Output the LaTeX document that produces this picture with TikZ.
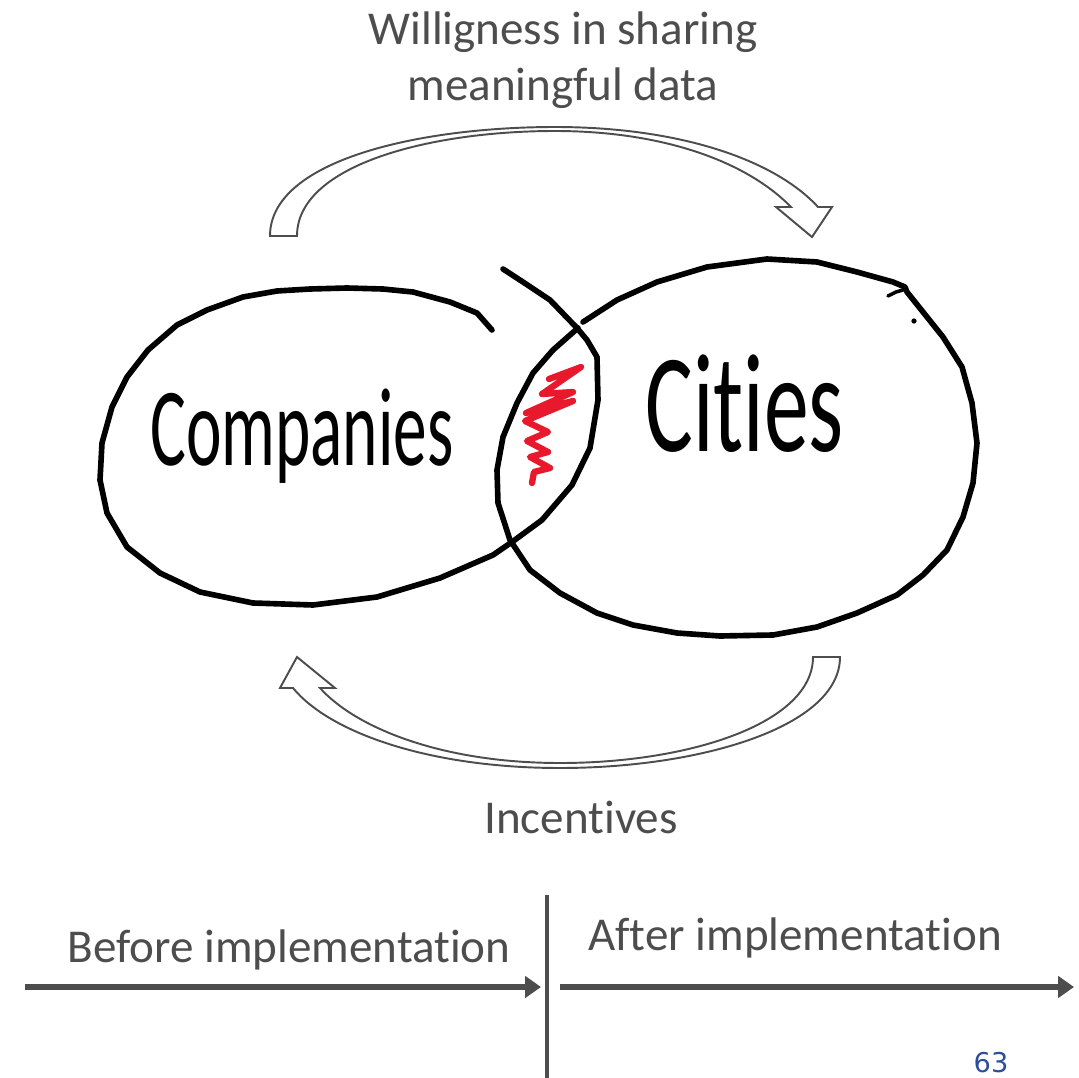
\documentclass[tikz,border=0pt]{standalone}
\usepackage{fontspec}
\setmainfont{Carlito}[Ligatures=NoCommon]
\newfontfamily\pagefont{DejaVu Sans}
\usetikzlibrary{arrows.meta}
\definecolor{slate}{HTML}{4D4D4D}
\definecolor{inkred}{HTML}{E8192C}
\definecolor{pageblue}{HTML}{2E4C9C}

\begin{document}
\begin{tikzpicture}[x=0.02cm,y=-0.02cm,
    slidetext/.style={text=slate,font=\fontsize{26.8}{32}\selectfont,align=center,inner sep=0pt},
    hand/.style={inner sep=0pt,anchor=base west},
    ink/.style={line width=3.2pt,line join=round,line cap=round},
    scribble/.style={inkred,line width=3.6pt,line join=round,line cap=round},
    curvearrow/.style={draw=slate,line width=1.1pt,fill=white},
    timeline/.style={slate,line width=3.4pt,-{Triangle[length=9pt,width=12pt]}}]
  \useasboundingbox (0,0) rectangle (1079,1078);

  \draw[curvearrow] (270,236) .. controls (270,160) and (420,127) .. (555,127)
    .. controls (680,127) and (775,160) .. (818,207) -- (832,207) -- (812,237) -- (776,207) -- (791,207)
    .. controls (745,160) and (660,131) .. (555,131) .. controls (430,131) and (297,165) .. (297,236) -- cycle;
  \draw[curvearrow] (840,657) .. controls (840,727) and (700,768) .. (560,768)
    .. controls (430,768) and (330,733) .. (293,688) -- (280,688) -- (297,657) -- (335,688) -- (320,688)
    .. controls (355,727) and (440,763) .. (560,763) .. controls (690,763) and (813,723) .. (813,657) -- cycle;

  \node[slidetext] (willing) at (563,60) {Willigness in sharing\\meaningful data};
  \node[slidetext,anchor=base] (incent) at (581,833) {Incentives};

  \draw[ink] (492,330) -- (477,313) -- (450,302) -- (413,292) -- (383,289) -- (347,288) -- (310,289)
    -- (277,291) -- (243,297) -- (207,310) -- (177,325) -- (148,350) -- (127,377) -- (112,407)
    -- (102,443) -- (100,480) -- (107,513) -- (127,547) -- (160,573) -- (200,592) -- (253,603)
    -- (313,605) -- (377,597) -- (440,578) -- (493,555) -- (512,542) -- (542,520) -- (572,485)
    -- (590,448) -- (598,400) -- (597,357) -- (587,340) -- (577,328) -- (550,300) -- (523,282) -- (503,269);
  \draw[ink] (583,322) -- (617,300) -- (657,282) -- (707,267) -- (767,259) -- (817,262) -- (857,272)
    -- (893,282) -- (905,287) -- (907,292) -- (923,312) -- (943,337) -- (962,367) -- (972,403)
    -- (977,443) -- (973,483) -- (963,517) -- (947,550) -- (923,575) -- (897,595) -- (857,613)
    -- (817,627) -- (773,635) -- (720,636) -- (677,633) -- (633,625) -- (597,613) -- (560,593)
    -- (530,570) -- (510,540) -- (498,503) -- (497,470) -- (503,437) -- (517,403) -- (533,373)
    -- (553,350) -- (578,328);
  \draw[line width=2pt,line cap=round] (888,296) -- (896,292) -- (903,290);
  \fill (914,321) circle (1.5pt);

  \draw[scribble] (549,379) -- (581,367) -- (542,394) -- (573,392) -- (526,413) -- (573,401) -- (525,421)
    -- (548,432) -- (527,441) -- (548,452) -- (530,457) -- (550,468) -- (534,472) -- (532,483);

  \node[hand,font=\fontsize{44}{50}\selectfont] (companies) at (150,465) {\scalebox{0.87}[1.44]{Companies}};
  \node[hand,font=\fontsize{50}{56}\selectfont] (cities) at (645,451) {\scalebox{1.02}[1.6]{Cities}};

  \node[slidetext,anchor=base] (before) at (289,962) {Before implementation};
  \node[slidetext,anchor=base] (after) at (795,950) {After implementation};
  \coordinate (start) at (25,987);
  \coordinate (split) at (541,987);
  \coordinate (resume) at (560,987);
  \coordinate (stop) at (1074,987);
  \coordinate (divtop) at (547,895);
  \coordinate (divbot) at (547,1078);
  \draw[timeline] (start) -- (split);
  \draw[timeline] (resume) -- (stop);
  \draw[slate,line width=2.3pt] (divtop) -- (divbot);

  \node[text=pageblue,font=\pagefont\fontsize{15.5}{18}\selectfont,anchor=base] (page) at (991,1072) {63};
\end{tikzpicture}
\end{document}
